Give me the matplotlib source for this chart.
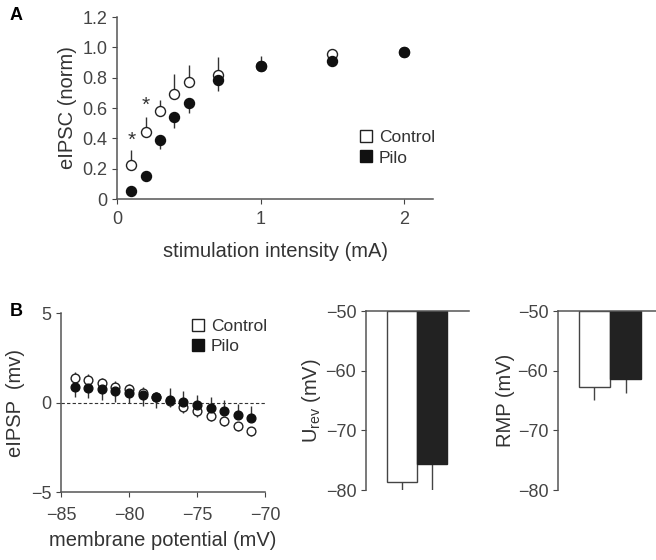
import numpy as np
from matplotlib import pyplot as plt
from matplotlib.lines import Line2D

plt.rcParams['font.family'] = ['Liberation Sans', 'DejaVu Sans']
plt.rcParams['font.size'] = 13
plt.rcParams['axes.labelsize'] = 14.5
plt.rcParams['text.color'] = '#333333'
plt.rcParams['axes.labelcolor'] = '#333333'
plt.rcParams['xtick.color'] = '#444444'
plt.rcParams['ytick.color'] = '#444444'
plt.rcParams['axes.edgecolor'] = '#555555'
plt.rcParams['axes.linewidth'] = 1.1

# --- panel A: eIPSC vs stimulation intensity ---
stim = [0.1, 0.2, 0.3, 0.4, 0.5, 0.7, 1.0, 1.5, 2.0]
ctrl_ipsc = [0.225, 0.445, 0.58, 0.694, 0.771, 0.819, 0.88, 0.956, 0.97]
ctrl_ipsc_err = [0.095, 0.095, 0.07, 0.13, 0.11, 0.12, 0.065, 0.0, 0.0]
pilo_ipsc = [0.053, 0.152, 0.39, 0.544, 0.636, 0.786, 0.874, 0.907, 0.967]
pilo_ipsc_err = [0.0, 0.0, 0.06, 0.077, 0.07, 0.077, 0.03, 0.0, 0.0]
star_x = [0.1, 0.2]
star_y = [0.39, 0.615]

# --- panel B: eIPSP vs membrane potential ---
vm = [-84, -83, -82, -81, -80, -79, -78, -77, -76, -75, -74, -73, -72, -71]
ctrl_ipsp = [1.35, 1.26, 1.07, 0.89, 0.74, 0.56, 0.30, 0.06, -0.26, -0.50, -0.74, -1.02, -1.30, -1.57]
ctrl_ipsp_err = [0.37, 0.33, 0.3, 0.3, 0.3, 0.3, 0.3, 0.3, 0.3, 0.3, 0.3, 0.3, 0.3, 0.32]
pilo_ipsp = [0.89, 0.83, 0.74, 0.65, 0.52, 0.43, 0.30, 0.15, 0.04, -0.13, -0.31, -0.50, -0.69, -0.87]
pilo_ipsp_err = [0.6, 0.6, 0.6, 0.6, 0.56, 0.6, 0.6, 0.65, 0.6, 0.56, 0.64, 0.65, 0.62, 0.65]
# error direction: True = drawn upward
ctrl_up = [True, True, True, True, True, True, True, False, False, False, False, False, False, False]
pilo_up = [False, False, False, False, False, False, False, True, True, True, True, True, True, True]

# --- bar panels ---
groups = ['Control', 'Pilo']
urev = [-78.7, -75.6]
urev_err = [1.3, 4.6]
rmp = [-62.7, -61.4]
rmp_err = [2.2, 2.3]

fig = plt.figure(figsize=(6.56, 5.60), dpi=100)

# ---------- A ----------
axA = fig.add_axes([0.1784, 0.6446, 0.4817, 0.325])
axA.errorbar(stim, ctrl_ipsc, yerr=[np.zeros(len(stim)), ctrl_ipsc_err],
             fmt='none', ecolor='#333333', elinewidth=1, capsize=0, zorder=1)
axA.errorbar(stim, pilo_ipsc, yerr=[pilo_ipsc_err, np.zeros(len(stim))],
             fmt='none', ecolor='#333333', elinewidth=1, capsize=0, zorder=1)
axA.plot(stim, ctrl_ipsc, 'o', ms=7.2, mfc='white', mec='#222222', mew=1, ls='none', zorder=2)
axA.plot(stim, pilo_ipsc, 'o', ms=7.2, mfc='#111111', mec='#111111', ls='none', zorder=3)
for sx, sy in zip(star_x, star_y):
    axA.text(sx, sy, '*', ha='center', va='center', fontsize=15)
axA.set_xlim(0, 2.2)
axA.set_ylim(0, 1.2)
axA.set_xticks([0, 1, 2])
axA.set_yticks([0, 0.2, 0.4, 0.6, 0.8, 1.0, 1.2])
axA.set_yticklabels(['0', '0.2', '0.4', '0.6', '0.8', '1.0', '1.2'])
axA.tick_params(axis='x', pad=5)
axA.spines['top'].set_visible(False)
axA.spines['right'].set_visible(False)
axA.set_xlabel('stimulation intensity (mA)', labelpad=10)
axA.set_ylabel('eIPSC (norm)')

handles = [Line2D([], [], marker='s', ls='none', ms=8.5, mfc='white', mec='#222222', mew=1),
           Line2D([], [], marker='s', ls='none', ms=8.5, mfc='#111111', mec='#111111')]
axA.legend(handles, groups, loc='upper left', bbox_to_anchor=(359 / 656, 1 - 130 / 560),
           bbox_transform=fig.transFigure, frameon=False, borderpad=0, borderaxespad=0,
           handlelength=0.8, handletextpad=0.35, labelspacing=0.3, fontsize=12.5)
fig.text(10 / 656, 1 - 15 / 560, 'A', fontsize=13, fontweight='bold', color='black', va='center')

# ---------- B left ----------
axB = fig.add_axes([0.093, 0.1214, 0.311, 0.3196])
axB.axhline(0, color='#333333', lw=0.8, ls=(0, (3, 2)), zorder=0)
c_lo = [0 if u else e for u, e in zip(ctrl_up, ctrl_ipsp_err)]
c_hi = [e if u else 0 for u, e in zip(ctrl_up, ctrl_ipsp_err)]
p_lo = [0 if u else e for u, e in zip(pilo_up, pilo_ipsp_err)]
p_hi = [e if u else 0 for u, e in zip(pilo_up, pilo_ipsp_err)]
axB.errorbar(vm, ctrl_ipsp, yerr=[c_lo, c_hi], fmt='none', ecolor='#333333',
             elinewidth=1, capsize=0, zorder=1)
axB.errorbar(vm, pilo_ipsp, yerr=[p_lo, p_hi], fmt='none', ecolor='#333333',
             elinewidth=1, capsize=0, zorder=1)
axB.plot(vm, ctrl_ipsp, 'o', ms=6.3, mfc='white', mec='#222222', mew=1, ls='none', zorder=2)
axB.plot(vm, pilo_ipsp, 'o', ms=6.3, mfc='#111111', mec='#111111', ls='none', zorder=3)
axB.set_xlim(-85, -70)
axB.set_ylim(-5, 5)
axB.set_xticks([-85, -80, -75, -70])
axB.set_yticks([-5, 0, 5])
axB.tick_params(axis='x', pad=7)
axB.spines['top'].set_visible(False)
axB.spines['right'].set_visible(False)
axB.set_xlabel('membrane potential (mV)', labelpad=5)
axB.set_ylabel('eIPSP  (mv)')
axB.legend(handles, groups, loc='upper left', bbox_to_anchor=(191 / 656, 1 - 319 / 560),
           bbox_transform=fig.transFigure, frameon=False, borderpad=0, borderaxespad=0,
           handlelength=0.8, handletextpad=0.35, labelspacing=0.25, fontsize=12.5)
fig.text(10 / 656, 1 - 312 / 560, 'B', fontsize=13, fontweight='bold', color='black', va='center')


def bar_panel(rect, vals, errs, centers, width, ylabel):
    ax = fig.add_axes(rect)
    heights = [v - (-50) for v in vals]
    ax.bar(centers, heights, width=width, bottom=-50, color=['white', '#222222'],
           edgecolor=['#444444', '#222222'], linewidth=1, zorder=2)
    ax.errorbar(centers, vals, yerr=[errs, [0, 0]], fmt='none', ecolor='#444444',
                elinewidth=1, capsize=0, zorder=1)
    ax.set_xlim(0, 1)
    ax.set_ylim(-80, -50)
    ax.set_yticks([-50, -60, -70, -80])
    ax.set_xticks([])
    ax.spines['bottom'].set_visible(False)
    ax.spines['right'].set_visible(False)
    ax.set_ylabel(ylabel, labelpad=2)
    return ax


bar_panel([0.558, 0.125, 0.157, 0.3196], urev, urev_err, [0.35, 0.64], 0.29,
          r'$\mathregular{U_{rev}}$ (mV)')
bar_panel([0.8506, 0.125, 0.1494, 0.3196], rmp, rmp_err, [0.372, 0.689], 0.316,
          'RMP (mV)')

fig.savefig('out.png', dpi=100)
